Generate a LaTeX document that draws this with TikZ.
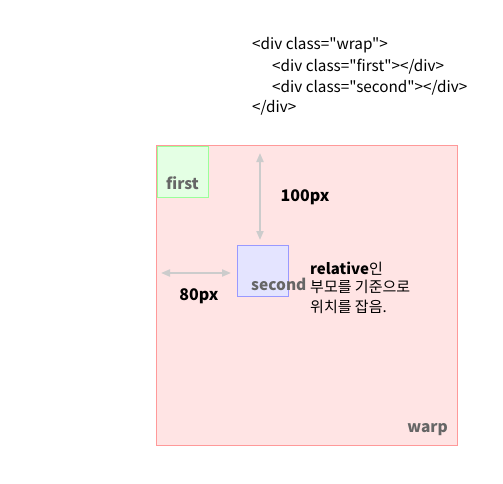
\documentclass[tikz,border=0pt]{standalone}
\usepackage{fontspec}
\setmainfont{Noto Sans CJK KR}[Ligatures=TeXOff]
\usetikzlibrary{arrows.meta}
\definecolor{wrapfill}{HTML}{FFE4E4}
\definecolor{wrapline}{HTML}{FF9999}
\definecolor{firstfill}{HTML}{E4FFE4}
\definecolor{firstline}{HTML}{99FF99}
\definecolor{secfill}{HTML}{E4E4FF}
\definecolor{secline}{HTML}{9999FF}
\definecolor{arrowgray}{HTML}{CCCCCC}
\definecolor{labelgray}{HTML}{666666}
\tikzset{
  code/.style={anchor=west, inner sep=0pt, font=\fontsize{15.3}{17}\selectfont},
  boxlabel/.style={inner sep=0pt, text=labelgray, font=\fontsize{15.5}{17}\selectfont\bfseries},
  dimlabel/.style={inner sep=0pt, font=\fontsize{16}{18}\selectfont\bfseries},
  note/.style={anchor=west, inner sep=0pt, font=\fontsize{15}{17}\selectfont},
  dimarrow/.style={draw=arrowgray, line width=2pt, {Triangle[length=9pt,width=7pt]}-{Triangle[length=9pt,width=7pt]}}
}
\begin{document}
\begin{tikzpicture}[x=1pt,y=-1pt]
\useasboundingbox (0,0) rectangle (503,484);
\node[code] (c1) at (252,45) {<div class="wrap">};
\node[code] (c2) at (272,67) {<div class="first"></div>};
\node[code] (c3) at (272,88) {<div class="second"></div>};
\node[code] (c4) at (252,108) {</div>};
\draw[draw=wrapline, fill=wrapfill, line width=1pt] (156.5,145.5) rectangle (457.5,445.5);
\node[draw=firstline, fill=firstfill, line width=1pt, minimum width=51pt, minimum height=51pt, inner sep=0pt, anchor=north west] (first) at (157,146) {};
\node[draw=secline, fill=secfill, line width=1pt, minimum width=51pt, minimum height=51pt, inner sep=0pt, anchor=north west] (second) at (237,245) {};
\node[boxlabel] (lfirst) at (182.5,183) {first};
\node[boxlabel, anchor=west] (lsecond) at (251,284) {second};
\node[boxlabel, anchor=east] (lwarp) at (448,430) {warp};
\coordinate (vt) at (260,153);
\coordinate (vb) at (260,240);
\draw[dimarrow] (vt) -- (vb);
\coordinate (hl) at (161,273);
\coordinate (hr) at (231,273);
\draw[dimarrow] (hl) -- (hr);
\node[dimlabel] (l100) at (305,197) {100px};
\node[dimlabel] (l80) at (199,296) {80px};
\node[note] (n1) at (310,269) {\textbf{relative}인};
\node[note] (n2) at (310,287) {부모를 기준으로};
\node[note] (n3) at (310,307) {위치를 잡음.};
\end{tikzpicture}
\end{document}
